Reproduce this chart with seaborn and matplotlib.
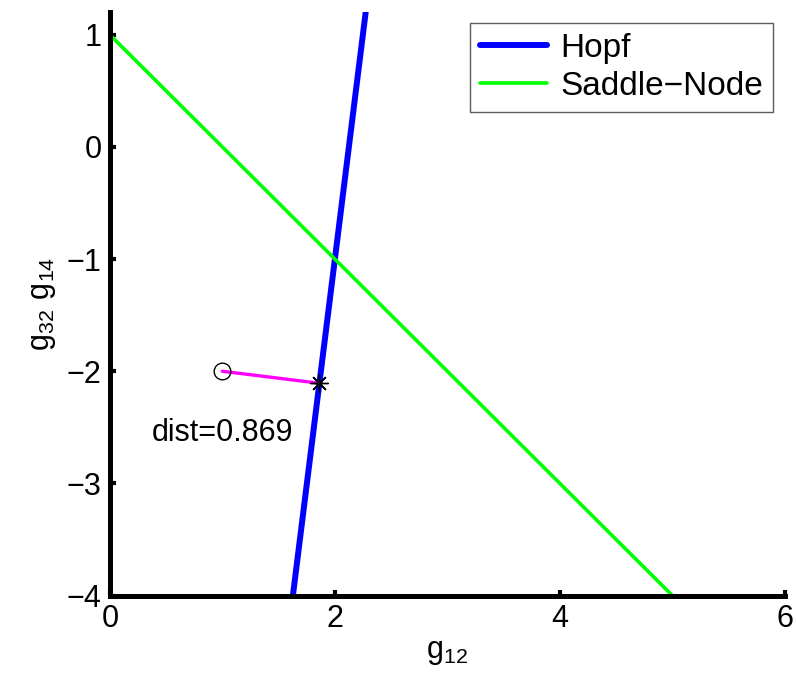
import numpy as np
import pandas as pd
import matplotlib
matplotlib.use("Agg")
import matplotlib.pyplot as plt
import seaborn as sns

# Bifurcation curves in the (g12, g32*g14) plane
hopf_g12 = [1.627, 2.274]
hopf_g32g14 = [-4.0, 1.2]
saddle_g12 = [0.0, 5.0]
saddle_g32g14 = [1.0, -4.0]

# Operating point and its nearest point on the Hopf curve
point_g12, point_g32g14 = 1.0, -2.0
nearest_g12, nearest_g32g14 = 1.862, -2.107

x_ticks = [0, 2, 4, 6]
y_ticks = [-4, -3, -2, -1, 0, 1]

sns.set_theme(style="ticks")
plt.rcParams["font.family"] = ["Liberation Sans", "DejaVu Sans"]
plt.rcParams["mathtext.default"] = "regular"
plt.rcParams["text.color"] = "black"
plt.rcParams["axes.labelcolor"] = "black"
plt.rcParams["xtick.color"] = "black"
plt.rcParams["ytick.color"] = "black"

fig = plt.figure(figsize=(7.96, 6.83), dpi=100)
ax = fig.add_axes([0.138, 0.128, 0.848, 0.854])

hopf = pd.DataFrame({"g12": hopf_g12, "g32g14": hopf_g32g14})
saddle = pd.DataFrame({"g12": saddle_g12, "g32g14": saddle_g32g14})

sns.lineplot(data=hopf, x="g12", y="g32g14", color="#0000ff", linewidth=4.3,
             label="Hopf", ax=ax, estimator=None, sort=False)
sns.lineplot(data=saddle, x="g12", y="g32g14", color="#00ff00", linewidth=2.6,
             label="Saddle\u2212Node", ax=ax, estimator=None, sort=False)

ax.plot([point_g12, nearest_g12], [point_g32g14, nearest_g32g14],
        color="#ff00ff", linewidth=2.4, zorder=3)
ax.plot([point_g12], [point_g32g14], marker="o", markersize=12,
        markerfacecolor="none", markeredgecolor="black", markeredgewidth=1.0,
        linestyle="none", zorder=4)
ax.plot([nearest_g12], [nearest_g32g14], marker=(8, 2, 0), markersize=13,
        markeredgecolor="black", markeredgewidth=1.0, linestyle="none", zorder=4)

dist = np.hypot(nearest_g12 - point_g12, nearest_g32g14 - point_g32g14)
ax.text(1.0, -2.55, f"dist={dist:.3f}", ha="center", va="center", fontsize=22)

ax.set_xlim(0, 6)
ax.set_ylim(-4, 1.2)
ax.set_xticks(x_ticks)
ax.set_yticks(y_ticks)
ax.tick_params(direction="in", length=4, width=3, labelsize=22, pad=6)

for side in ("top", "right"):
    ax.spines[side].set_visible(False)
for side in ("left", "bottom"):
    ax.spines[side].set_linewidth(3.6)
    ax.spines[side].set_color("black")

ax.set_xlabel("$g_{12}$", fontsize=22, labelpad=2)
ax.set_ylabel("$g_{32}\\ g_{14}$", fontsize=22, labelpad=6)

leg = ax.legend(loc="upper right", bbox_to_anchor=(773 / 796, 1 - 23 / 683),
                bbox_transform=fig.transFigure, fontsize=24,
                frameon=True, fancybox=False, handlelength=2.0,
                borderpad=0.3, labelspacing=0.2, handletextpad=0.4,
                borderaxespad=0.0)
leg.get_frame().set_edgecolor("#333333")
leg.get_frame().set_linewidth(1.0)
for t in leg.get_texts():
    t.set_color("black")

fig.savefig("out.png", dpi=100)
